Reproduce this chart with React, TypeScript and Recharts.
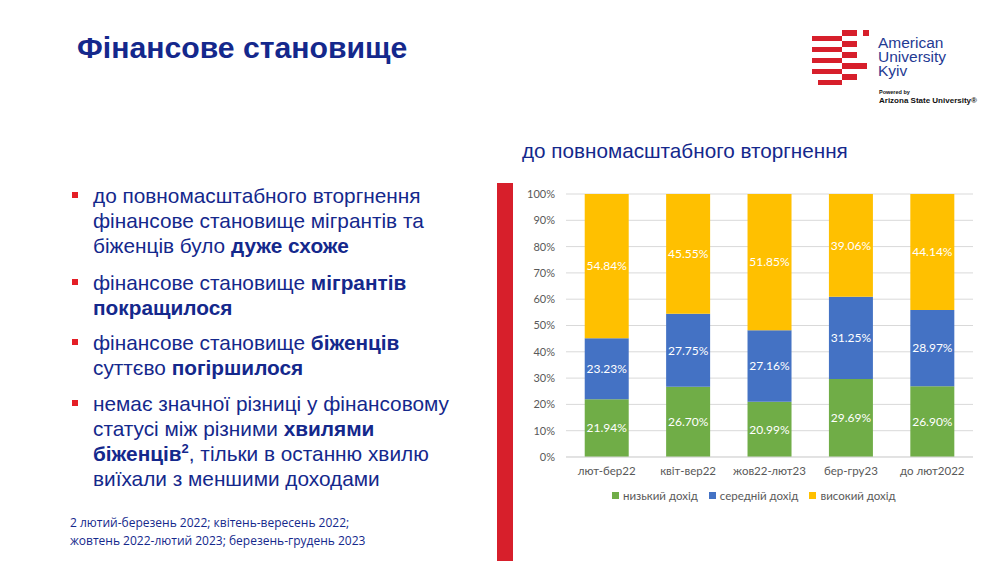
import { BarChart, Bar, XAxis, YAxis, CartesianGrid, LabelList } from 'recharts'

const periods = ['лют-бер22', 'квіт-вер22', 'жов22-лют23', 'бер-гру23', 'до лют2022']
const lowIncome = [21.94, 26.7, 20.99, 29.69, 26.9]
const midIncome = [23.23, 27.75, 27.16, 31.25, 28.97]
const highIncome = [54.84, 45.55, 51.85, 39.06, 44.14]
const yTicks = [0, 10, 20, 30, 40, 50, 60, 70, 80, 90, 100]

const series = [
  { key: 'low', name: 'низький дохід', color: '#70AD47', values: lowIncome },
  { key: 'mid', name: 'середній дохід', color: '#4472C4', values: midIncome },
  { key: 'high', name: 'високий дохід', color: '#FFC000', values: highIncome },
]

const chartData = periods.map((p, i) => ({
  period: p,
  low: lowIncome[i],
  mid: midIncome[i],
  high: highIncome[i],
}))

const BLUE = '#14288c'
const FONT = '"Liberation Sans", Arial, sans-serif'
const SMALL = 'Lato, sans-serif'

// логотип: смуги [x, y, w, h]
const logoRects = [
  [842, 30, 15, 6], [863, 30, 6, 6],
  [812, 36, 30, 5], [842, 41, 15, 6],
  [812, 47, 30, 5], [842, 52, 15, 6],
  [812, 58, 30, 5], [842, 63, 25, 6],
  [812, 69, 30, 5], [842, 74, 15, 6],
  [818, 80, 24, 5],
]

function Bullet({ top, children }: { top: number; children: React.ReactNode }) {
  return (
    <div style={{ position: 'absolute', left: 72, top, width: 390 }}>
      <div style={{ position: 'absolute', left: 0, top: 9, width: 6, height: 6, background: '#e41e26' }} />
      <div style={{ marginLeft: 21, fontSize: 20.8, lineHeight: '25px', color: BLUE, fontFamily: FONT }}>
        {children}
      </div>
    </div>
  )
}

export default function App() {
  return (
    <div style={{ position: 'absolute', left: 0, top: 0, width: 997, height: 561, background: '#fff', overflow: 'hidden', fontFamily: FONT }}>
      <div style={{ position: 'absolute', left: 77, top: 31, fontSize: 30.2, fontWeight: 700, color: BLUE }}>
        Фінансове становище
      </div>

      {/* логотип */}
      <svg style={{ position: 'absolute', left: 0, top: 0 }} width={997} height={115}>
        {logoRects.map(([x, y, w, h], i) => (
          <rect key={i} x={x} y={y} width={w} height={h} fill="#d71f2b" />
        ))}
        <text x={878} y={48} fontSize={15.5} fill="#1f3a93" fontFamily={FONT}>American</text>
        <text x={878} y={62} fontSize={15.5} fill="#1f3a93" fontFamily={FONT}>University</text>
        <text x={878} y={76} fontSize={15.5} fill="#1f3a93" fontFamily={FONT}>Kyiv</text>
        <text x={879} y={94} fontSize={5.5} fontWeight={700} fill="#111" fontFamily={FONT}>Powered by</text>
        <text x={879} y={103} fontSize={8} fontWeight={700} fill="#111" fontFamily={FONT}>Arizona State University®</text>
      </svg>

      <Bullet top={183}>
        до повномасштабного вторгнення фінансове становище мігрантів та біженців було <b>дуже схоже</b>
      </Bullet>
      <Bullet top={270}>
        фінансове становище <b>мігрантів покращилося</b>
      </Bullet>
      <Bullet top={330}>
        фінансове становище <b>біженців</b> суттєво <b>погіршилося</b>
      </Bullet>
      <Bullet top={391}>
        немає значної різниці у фінансовому статусі між різними <b>хвилями біженців<sup style={{ fontSize: 13, lineHeight: 0 }}>2</sup></b>, тільки в останню хвилю виїхали з меншими доходами
      </Bullet>

      <div style={{ position: 'absolute', left: 70, top: 514, fontSize: 12, lineHeight: '18px', color: BLUE, fontFamily: '"Open Sans", sans-serif' }}>
        2 лютий-березень 2022; квітень-вересень 2022;
        <br />
        жовтень 2022-лютий 2023; березень-грудень 2023
      </div>

      <div style={{ position: 'absolute', left: 522, top: 139, fontSize: 20.7, color: BLUE }}>
        до повномасштабного вторгнення
      </div>

      <div style={{ position: 'absolute', left: 497, top: 183, width: 16, height: 378, background: '#d71f2b' }} />

      <div style={{ position: 'absolute', left: 510, top: 180 }}>
        <BarChart
          width={480}
          height={310}
          data={chartData}
          margin={{ top: 14, right: 17, bottom: 0, left: 0 }}
          barCategoryGap="23%"
        >
          <CartesianGrid vertical={false} stroke="#d9d9d9" />
          <XAxis
            dataKey="period"
            height={33}
            tickLine={false}
            axisLine={{ stroke: '#d9d9d9' }}
            tickMargin={4}
            tick={{ fill: '#595959', fontSize: 11.5, fontFamily: SMALL }}
            interval={0}
          />
          <YAxis
            width={56}
            domain={[0, 100]}
            ticks={yTicks}
            allowDataOverflow
            tickLine={false}
            axisLine={false}
            tickMargin={5}
            tickFormatter={(v) => `${v}%`}
            tick={{ fill: '#595959', fontSize: 11, fontFamily: SMALL }}
          />
          {series.map((s) => (
            <Bar key={s.key} dataKey={s.key} name={s.name} stackId="a" fill={s.color} isAnimationActive={false}>
              <LabelList
                dataKey={s.key}
                position="center"
                fill="#fff"
                fontSize={12}
                fontFamily={SMALL}
                formatter={(v: any) => `${Number(v).toFixed(2)}%`}
              />
            </Bar>
          ))}
        </BarChart>
      </div>

      {/* легенда */}
      <div style={{ position: 'absolute', left: 612, top: 489, display: 'flex', gap: 11, fontSize: 11.5, color: '#595959', fontFamily: SMALL }}>
        {series.map((s) => (
          <div key={s.key} style={{ display: 'flex', alignItems: 'center', gap: 4 }}>
            <div style={{ width: 7, height: 7, background: s.color }} />
            <span>{s.name}</span>
          </div>
        ))}
      </div>
    </div>
  )
}
